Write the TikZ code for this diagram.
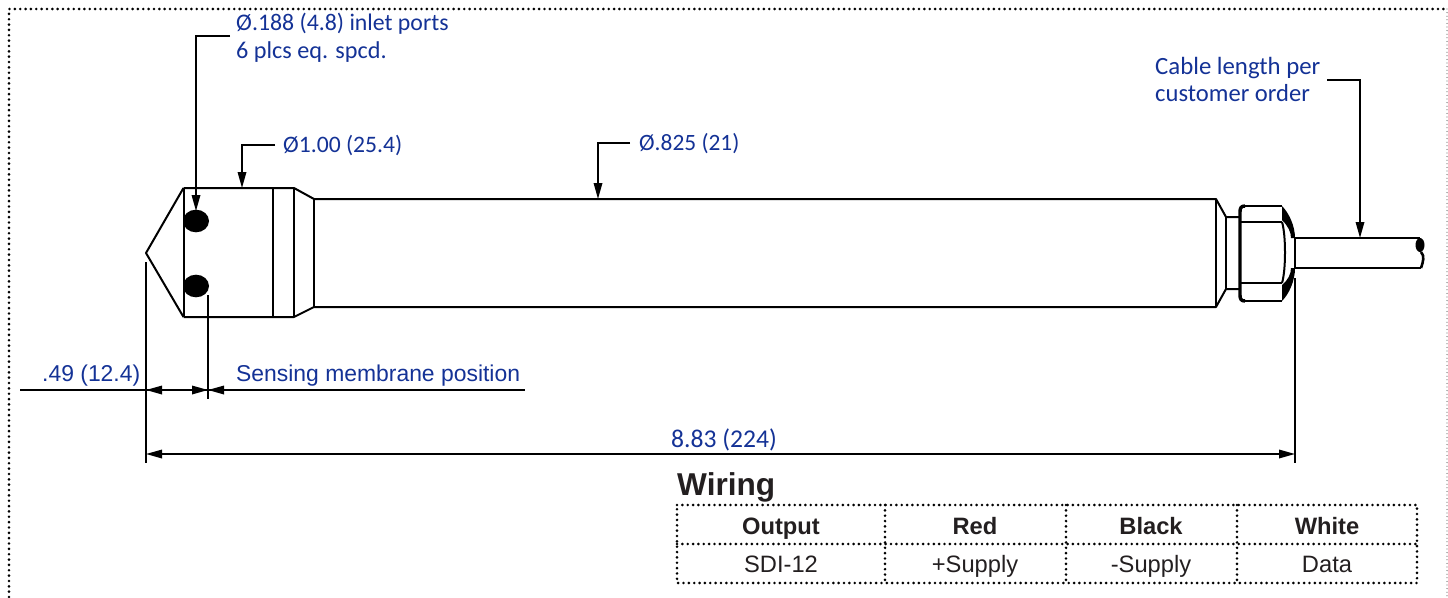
\documentclass[tikz,border=0pt]{standalone}
\usepackage{fontspec}
\setmainfont{Liberation Sans}
\newfontfamily\myr{Carlito}
\usetikzlibrary{arrows.meta}
\definecolor{dimblue}{RGB}{20,50,150}
\definecolor{tabtext}{RGB}{35,31,32}
\tikzset{
  x=1pt,y=-1pt,
  part/.style={draw=black,line width=2pt,line join=round},
  lead/.style={draw=black,line width=1.7pt},
  arr/.style={lead,-{Triangle[length=16pt,width=8.5pt]}},
  ports/.style={fill=black,draw=none},
  dots/.style={draw=black,line width=2.9pt,line cap=round,dash pattern=on 0pt off 5.35pt},
  thindots/.style={draw=black!55,line width=1.3pt,line cap=round,dash pattern=on 0pt off 3.6pt},
  blue1/.style={text=dimblue,inner sep=0pt,anchor=base west,font=\myr\fontsize{#1}{28}\selectfont},
  blue1/.default=24.6,
  blue2/.style={text=dimblue,inner sep=0pt,anchor=base west,font=\fontsize{22.9}{27}\selectfont},
  cellh/.style={text=tabtext,inner sep=0pt,anchor=base,font=\bfseries\fontsize{23.7}{28}\selectfont},
  cellb/.style={text=tabtext,inner sep=0pt,anchor=base,font=\fontsize{23.7}{28}\selectfont},
}
\begin{document}
\begin{tikzpicture}
\useasboundingbox (0,0) rectangle (1448,597);
% frame
\coordinate (fa) at (9,597); \coordinate (fb) at (9,9); \coordinate (fc) at (1447,9); \coordinate (fd) at (1447,597);
\draw[dots] (fa) -- (fb) -- (fc);
\draw[thindots] (fc) -- (fd);
% sensor head
\draw[part] (183.5,188) -- (146,253) -- (183.5,317);
\draw[part] (183.5,188) -- (294,188) -- (314,199) -- (1216,199) -- (1226,217) -- (1240,217);
\draw[part] (183.5,317) -- (294,317) -- (314,307) -- (1216,307) -- (1226,289) -- (1240,289);
\draw[part] (183.5,188) -- (183.5,317);
\draw[part] (273,188) -- (273,317);
\draw[part] (294,188) -- (294,317);
\draw[part] (314,199) -- (314,307);
\draw[part] (1216,199) -- (1216,307);
\draw[part] (1226,217) -- (1226,289);
\fill[ports] (196,221) ellipse [x radius=13,y radius=11.3];
\fill[ports] (196,286) ellipse [x radius=13,y radius=11.3];
% nut
\fill[black] (1282,206) .. controls (1289,213) and (1295,226) .. (1295,238) -- (1291,238) .. controls (1291,232) and (1288,226) .. (1282,220) -- cycle;
\fill[black] (1282,301) .. controls (1289,294) and (1295,281) .. (1295,268) -- (1291,268) .. controls (1291,274) and (1288,280) .. (1282,285) -- cycle;
\draw[part,line width=3.4pt] (1245,206) .. controls (1241,206) and (1240,208) .. (1240,212) -- (1240,295) .. controls (1240,299) and (1241,301) .. (1245,301);
\draw[part] (1245,206) -- (1282,206);
\draw[part] (1245,301) -- (1282,301);
\draw[part] (1240,222) -- (1282,222);
\draw[part] (1240,283) -- (1282,283);
\draw[part] (1282,222) .. controls (1286,235) and (1286,270) .. (1282,283);
\draw[part] (1295,238) -- (1295,268);
% cable
\draw[part] (1295,238) -- (1420,238);
\draw[part] (1295,268) -- (1421,268);
\fill[black] (1420,245) ellipse [x radius=4.5,y radius=7];
\draw[part,line width=2.6pt] (1421,252) .. controls (1425,256) and (1423,262) .. (1421,268);
% leaders
\node[blue1=23.8] (inlet1) at (236,30) {Ø.188 (4.8) inlet ports};
\node[blue1=24.2] (inlet2) at (236,58) {6 plcs eq. spcd.};
\coordinate (inletS) at (230,36); \coordinate (inletK) at (196,36); \coordinate (inletT) at (196,211);
\draw[arr] (inletS) -- (inletK) -- (inletT);
\node[blue1=23.6] (dia1) at (283,152) {Ø1.00 (25.4)};
\coordinate (diaS) at (275,145); \coordinate (diaK) at (242,145); \coordinate (diaT) at (242,188);
\draw[arr] (diaS) -- (diaK) -- (diaT);
\node[blue1=23.4] (dia2) at (639,150.5) {Ø.825 (21)};
\coordinate (dbS) at (630,143); \coordinate (dbK) at (598,143); \coordinate (dbT) at (598,199);
\draw[arr] (dbS) -- (dbK) -- (dbT);
\node[blue1=24.8] (cab1) at (1155,74) {Cable length per};
\node[blue1=24.6] (cab2) at (1155,101) {customer order};
\coordinate (cabS) at (1327,80); \coordinate (cabK) at (1360,80); \coordinate (cabT) at (1360,238);
\draw[arr] (cabS) -- (cabK) -- (cabT);
% dimensions
\coordinate (e1a) at (146,262); \coordinate (e1b) at (146,463);
\coordinate (e2a) at (208,295); \coordinate (e2b) at (208,399);
\coordinate (e3a) at (1295,278); \coordinate (e3b) at (1295,463);
\draw[lead] (e1a) -- (e1b);
\draw[lead] (e2a) -- (e2b);
\draw[lead] (e3a) -- (e3b);
\coordinate (d0) at (20,390); \coordinate (d1) at (146,390); \coordinate (d2) at (208,390); \coordinate (d3) at (525,390);
\draw[lead] (d0) -- (d3);
\path (d1) ++(14,0) coordinate (d1t); \path (d2) ++(-14,0) coordinate (d2t); \path (d2) ++(14,0) coordinate (d2u);
\draw[arr] (d1t) -- (d1);
\draw[arr] (d2t) -- (d2);
\draw[arr] (d2u) -- (d2);
\node[blue2] (t49) at (42,381) {.49 (12.4)};
\node[blue2] (tsens) at (236,381) {Sensing membrane position};
\coordinate (la) at (146,454); \coordinate (lb) at (1295,454);
\draw[lead,{Triangle[length=16pt,width=8.5pt]}-{Triangle[length=16pt,width=8.5pt]}] (la) -- (lb);
\node[blue1=25.6] (t883) at (671,447) {8.83 (224)};
% table
\node[text=tabtext,inner sep=0pt,anchor=base west,font=\bfseries\fontsize{31.6}{40}\selectfont] (wiring) at (677,495) {Wiring};
\coordinate (tl) at (677,505); \coordinate (tr) at (1417,505);
\coordinate (ml) at (677,544); \coordinate (mr) at (1417,544);
\coordinate (bl) at (677,583); \coordinate (br) at (1417,583);
\draw[dots] (tl) -- (tr) -- (br) -- (bl) -- cycle;
\draw[dots] (ml) -- (mr);
\coordinate (c1t) at (885,505); \coordinate (c1b) at (885,583);
\coordinate (c2t) at (1066,505); \coordinate (c2b) at (1066,583);
\coordinate (c3t) at (1237,505); \coordinate (c3b) at (1237,583);
\draw[dots] (c1t) -- (c1b);
\draw[dots] (c2t) -- (c2b);
\draw[dots] (c3t) -- (c3b);
\node[cellh] (h1) at (781,534) {Output};
\node[cellh] (h2) at (975,534) {Red};
\node[cellh] (h3) at (1151,534) {Black};
\node[cellh] (h4) at (1327,534) {White};
\node[cellb] (b1) at (781,572) {SDI-12};
\node[cellb] (b2) at (975,572) {+Supply};
\node[cellb] (b3) at (1151,572) {-Supply};
\node[cellb] (b4) at (1327,572) {Data};
\end{tikzpicture}
\end{document}
